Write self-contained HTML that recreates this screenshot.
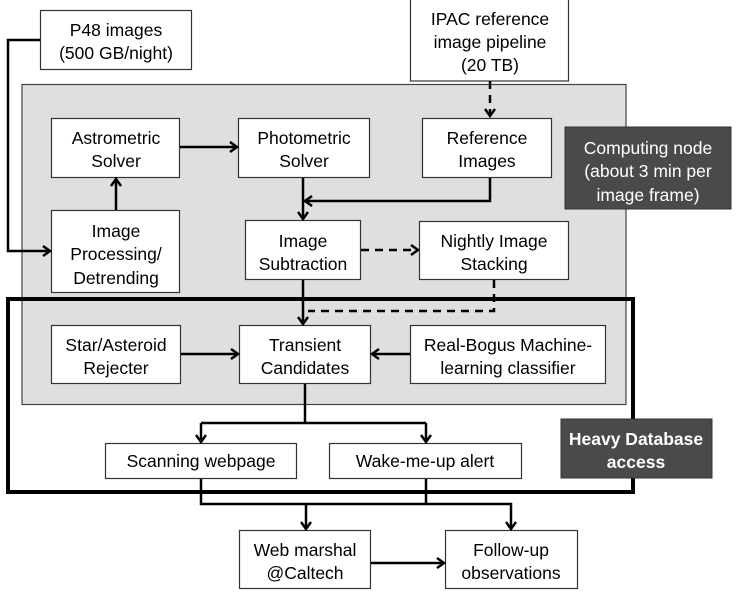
<!DOCTYPE html>
<html><head><meta charset="utf-8"><style>
html,body{margin:0;padding:0;background:#fff;}
svg{display:block;}
text{font-family:"Liberation Sans",sans-serif;font-size:17.5px;fill:#000;text-anchor:middle;}
.w{fill:#fff;}
</style></head><body>
<svg width="737" height="593" viewBox="0 0 737 593" xmlns="http://www.w3.org/2000/svg">
<defs>
<marker id="a" markerWidth="12" markerHeight="12" refX="9" refY="6" orient="auto" markerUnits="userSpaceOnUse">
<path d="M2,1 L9,6 L2,11" fill="none" stroke="#000" stroke-width="2.5"/>
</marker>
</defs>
<rect x="22" y="84.5" width="604" height="320" fill="#dfdfdf" stroke="#444" stroke-width="1.2"/>
<rect x="8" y="299" width="625" height="193" fill="none" stroke="#000" stroke-width="4"/>
<g fill="#fff" stroke="#333" stroke-width="1.2">
<rect x="40.5" y="10.5" width="151" height="59"/>
<rect x="410.5" y="-2" width="158" height="83"/>
<rect x="51.5" y="118.5" width="128" height="59"/>
<rect x="238.5" y="118.5" width="131" height="59"/>
<rect x="422.5" y="118.5" width="129" height="59"/>
<rect x="51.5" y="210.5" width="128" height="82"/>
<rect x="245.5" y="220.5" width="115" height="59"/>
<rect x="419.5" y="221.5" width="149" height="58"/>
<rect x="51.5" y="325.5" width="129" height="58"/>
<rect x="239.5" y="325.5" width="131" height="58"/>
<rect x="410.5" y="325.5" width="195" height="58"/>
<rect x="105.5" y="443.5" width="191" height="35"/>
<rect x="329.5" y="443.5" width="192" height="35"/>
<rect x="239.5" y="530.5" width="131" height="58"/>
<rect x="445.5" y="530.5" width="132" height="58"/>
</g>
<rect x="565" y="127" width="166" height="82" fill="#4a4a4a" stroke="#333"/>
<rect x="561" y="419" width="151" height="59" fill="#4a4a4a" stroke="#333"/>
<g fill="none" stroke="#000" stroke-width="2.5">
<path d="M40,40 H8 V251 H50" marker-end="url(#a)"/>
<path d="M116,210 V179" marker-end="url(#a)"/>
<path d="M180,147 H237" marker-end="url(#a)"/>
<path d="M303,178 V219" marker-end="url(#a)"/>
<path d="M490,178 V201 H305" marker-end="url(#a)"/>
<path d="M303,280 V324" marker-end="url(#a)"/>
<path d="M181,354 H238" marker-end="url(#a)"/>
<path d="M410,354 H372" marker-end="url(#a)"/>
<path d="M305,384 V423"/>
<path d="M201,423 H426"/>
<path d="M201,423 V442" marker-end="url(#a)"/>
<path d="M426,423 V442" marker-end="url(#a)"/>
<path d="M201,479 V504 H511 V529" marker-end="url(#a)"/>
<path d="M426,479 V504"/>
<path d="M306,504 V529" marker-end="url(#a)"/>
<path d="M371,563 H444" marker-end="url(#a)"/>
</g>
<g fill="none" stroke="#000" stroke-width="2.5" stroke-dasharray="8,6">
<path d="M490,81 V116" marker-end="url(#a)"/>
<path d="M361,250 H418" marker-end="url(#a)"/>
<path d="M494,280 V311 H308"/>
</g>
<text x="116" y="36">P48 images</text><text x="116" y="59">(500 GB/night)</text>
<text x="490" y="25">IPAC reference</text><text x="490" y="48">image pipeline</text><text x="490" y="71">(20 TB)</text>
<text x="116" y="144">Astrometric</text><text x="116" y="167">Solver</text>
<text x="304" y="144">Photometric</text><text x="304" y="167">Solver</text>
<text x="487" y="144">Reference</text><text x="487" y="167">Images</text>
<text class="w" x="648" y="154">Computing node</text><text class="w" x="648" y="177">(about 3 min per</text><text class="w" x="648" y="201">image frame)</text>
<text x="116" y="237">Image</text><text x="116" y="260">Processing/</text><text x="116" y="284">Detrending</text>
<text x="303" y="247">Image</text><text x="303" y="270">Subtraction</text>
<text x="494" y="247">Nightly Image</text><text x="494" y="270">Stacking</text>
<text x="116" y="351">Star/Asteroid</text><text x="116" y="374">Rejecter</text>
<text x="305" y="351">Transient</text><text x="305" y="374">Candidates</text>
<text x="508" y="351">Real-Bogus Machine-</text><text x="508" y="374">learning classifier</text>
<text x="201" y="467">Scanning webpage</text>
<text x="425" y="467">Wake-me-up alert</text>
<text class="w" x="636" y="445" font-weight="bold" font-size="16">Heavy Database</text><text class="w" x="636" y="468" font-weight="bold" font-size="16">access</text>
<text x="305" y="556">Web marshal</text><text x="305" y="579">@Caltech</text>
<text x="511" y="556">Follow-up</text><text x="511" y="579">observations</text>
</svg>
</body></html>
